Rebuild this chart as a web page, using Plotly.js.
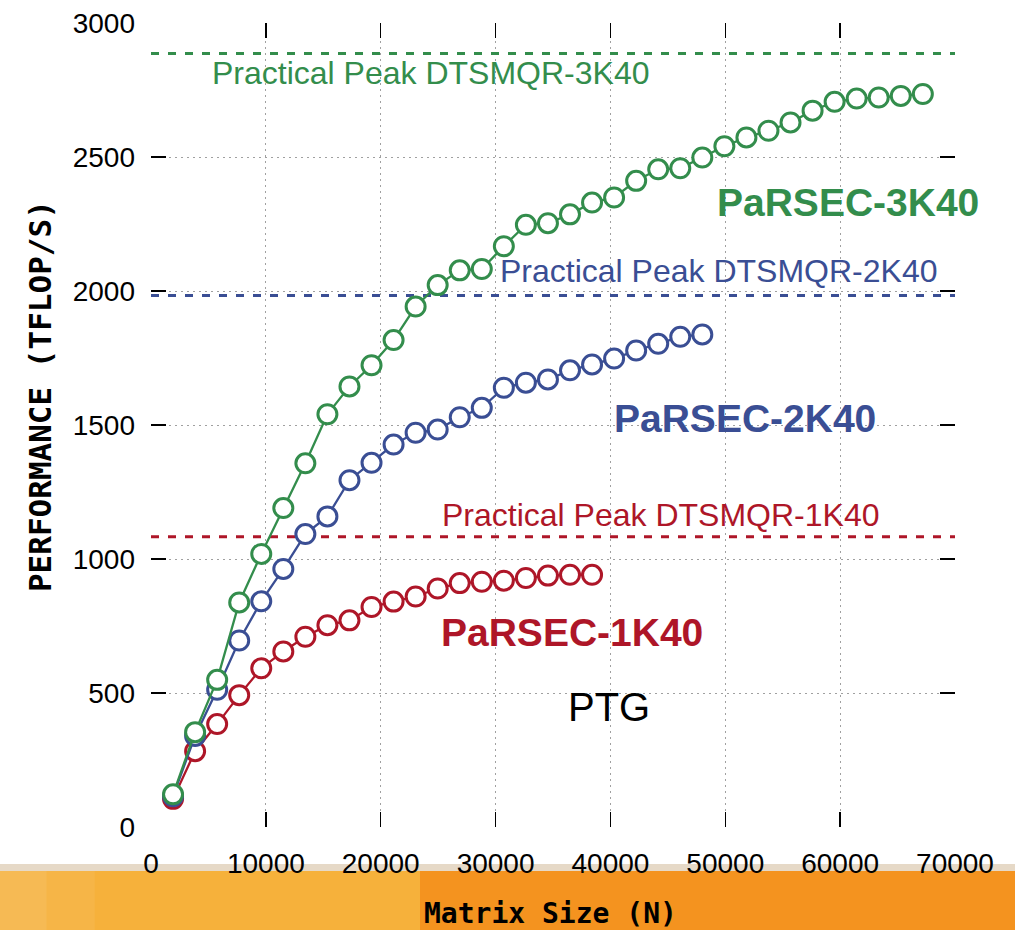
<!DOCTYPE html>
<html>
<head>
<meta charset="utf-8">
<script src="https://cdn.plot.ly/plotly-3.0.1.min.js"></script>
<style>
html,body{margin:0;padding:0;background:#fff;}
#chart{width:1015px;height:930px;}
</style>
</head>
<body>
<div id="chart"></div>
<script>
// ---- data ----
const nStep = 1920;
const red1K40 = [105, 283, 384, 492, 592, 655, 710, 753, 771, 821, 841, 860, 890, 910, 915, 919, 929, 938, 941, 941];
const blue2K40 = [115, 340, 512, 696, 842, 963, 1093, 1159, 1294, 1359, 1427, 1471, 1483, 1529, 1564, 1639, 1658, 1670, 1704, 1726, 1748, 1778, 1803, 1829, 1838];
const green3K40 = [122, 354, 549, 838, 1019, 1190, 1357, 1540, 1644, 1723, 1817, 1942, 2022, 2077, 2082, 2167, 2247, 2253, 2286, 2330, 2349, 2411, 2454, 2458, 2498, 2540, 2573, 2598, 2629, 2673, 2706, 2718, 2722, 2728, 2735];
const matrixSizes1 = red1K40.map((_, i) => (i + 1) * nStep);
const matrixSizes2 = blue2K40.map((_, i) => (i + 1) * nStep);
const matrixSizes3 = green3K40.map((_, i) => (i + 1) * nStep);
const peakNames = ["Practical Peak DTSMQR-1K40", "Practical Peak DTSMQR-2K40", "Practical Peak DTSMQR-3K40"];
const peakValues = [1083, 1983, 2886];
const peakRange = [0, 70000];
const xTicks = [0, 10000, 20000, 30000, 40000, 50000, 60000, 70000];
const yTicks = [0, 500, 1000, 1500, 2000, 2500, 3000];

const RED = "#ae1628", BLUE = "#3a4e94", GREEN = "#338d4c";
const colors = [RED, BLUE, GREEN];

const traces = [];
peakValues.forEach((v, i) => {
  traces.push({
    x: peakRange, y: [v, v], mode: "lines", type: "scatter",
    line: {color: colors[i], width: 3, dash: "8px,9px"}, hoverinfo: "skip", showlegend: false
  });
});
[[matrixSizes1, red1K40, RED], [matrixSizes2, blue2K40, BLUE], [matrixSizes3, green3K40, GREEN]].forEach(s => {
  traces.push({
    x: s[0], y: s[1], type: "scatter", mode: "lines+markers",
    line: {color: s[2], width: 2.3},
    marker: {symbol: "circle", size: 19, color: "#ffffff", line: {color: s[2], width: 3}},
    showlegend: false, cliponaxis: false
  });
});

const txt = (t, x, y, color, size, bold, family) => ({
  text: t, x: x, y: y, xref: "x", yref: "y", showarrow: false,
  xanchor: "center", yanchor: "middle",
  font: {family: family || "Liberation Sans, Arial, sans-serif", size: size, color: color, weight: bold ? "bold" : "normal"}
});

const annotations = [
  txt(peakNames[2], 24363, 2815, GREEN, 32, false),
  txt(peakNames[1], 49420, 2073, BLUE, 32, false),
  txt(peakNames[0], 44375, 1163, RED, 32, false),
  txt("PaRSEC-3K40", 60646, 2329, GREEN, 39, true),
  txt("PaRSEC-2K40", 51683, 1526, BLUE, 39, true),
  txt("PaRSEC-1K40", 36675, 727, RED, 39, true),
  txt("PTG", 39894, 446, "#000", 40, false),
  {text: "PERFORMANCE (TFLOP/S)", xref: "paper", yref: "paper", x: -0.138, y: 0.536,
   textangle: -90, showarrow: false, xanchor: "center", yanchor: "middle",
   font: {family: "DejaVu Sans Mono, monospace", size: 31, color: "#000", weight: "bold"}},
  {text: "Matrix Size (N)", xref: "paper", yref: "paper", x: 0.4975, y: -0.107,
   showarrow: false, xanchor: "center", yanchor: "middle",
   font: {family: "DejaVu Sans Mono, monospace", size: 28, color: "#000", weight: "bold"}}
];

const shapes = [
  {type: "rect", xref: "paper", yref: "paper", x0: -0.19, x1: 1.08, y0: -0.13, y1: -0.0547, fillcolor: "#f4931f", line: {width: 0}, layer: "below"},
  {type: "rect", xref: "paper", yref: "paper", x0: -0.19, x1: 0.3346, y0: -0.13, y1: -0.0547, fillcolor: "#f6b13b", line: {width: 0}, layer: "below"},
  {type: "rect", xref: "paper", yref: "paper", x0: -0.19, x1: -0.07, y0: -0.13, y1: -0.0547, fillcolor: "rgba(250,210,140,0.15)", line: {width: 0}, layer: "below"},
  {type: "rect", xref: "paper", yref: "paper", x0: -0.19, x1: -0.13, y0: -0.13, y1: -0.0547, fillcolor: "rgba(250,210,140,0.2)", line: {width: 0}, layer: "below"},
  {type: "rect", xref: "paper", yref: "paper", x0: -0.19, x1: 1.08, y0: -0.0547, y1: -0.046, fillcolor: "rgba(200,170,130,0.45)", line: {width: 0}, layer: "below"}
];

const axisCommon = {
  showline: false, zeroline: false, ticks: "inside", ticklen: 15, tickwidth: 1.5, tickcolor: "#000",
  mirror: "ticks", showgrid: true, gridcolor: "#a0a0a0", gridwidth: 1, griddash: "2px,4px",
  tickfont: {family: "Liberation Sans, Arial, sans-serif", size: 28, color: "#000"}
};

const layout = {
  width: 1015, height: 930,
  margin: {l: 151, r: 60, t: 23, b: 103},
  paper_bgcolor: "#ffffff", plot_bgcolor: "#ffffff",
  showlegend: false,
  xaxis: Object.assign({}, axisCommon, {range: [0, 70000], tickvals: xTicks, ticktext: xTicks.map(String), ticklabelstandoff: 17}),
  yaxis: Object.assign({}, axisCommon, {range: [0, 3000], tickvals: yTicks, ticktext: yTicks.map(String), ticklabelstandoff: 15}),
  annotations: annotations,
  shapes: shapes
};

Plotly.newPlot("chart", traces, layout, {staticPlot: true});
</script>
</body>
</html>
